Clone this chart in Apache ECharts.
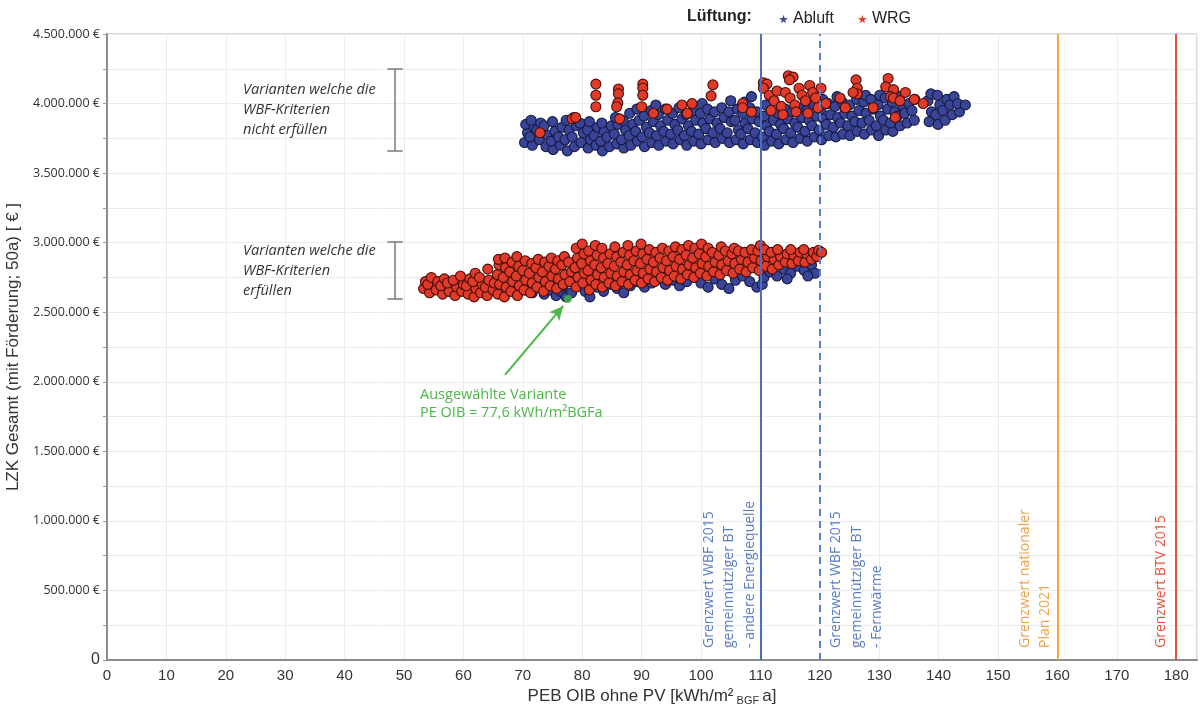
<!DOCTYPE html>
<html><head><meta charset="utf-8">
<script src="https://cdn.jsdelivr.net/npm/echarts@6/dist/echarts.min.js"></script>
<style>html,body{margin:0;padding:0;background:#fff}#c{width:1200px;height:705px}</style>
</head><body><div id="c"></div><script>
// ---- data (x: PEB OIB kWh/m²a, y: LZK in thousand €) ----
const xTicks = [0,10,20,30,40,50,60,70,80,90,100,110,120,130,140,150,160,170,180];
const yTickStep = 250; // thousand €
const abluftUpper = [
[70.3,3720],[70.8,3790],[70.5,3850],[71.6,3700],[71.2,3760],[71.9,3830],[71.4,3880],
[72.8,3740],[72.4,3810],[73.0,3860],[73.9,3690],[74.2,3770],[73.6,3840],
[75.1,3670],[74.8,3730],[75.4,3800],[75.0,3870],[76.3,3700],[76.0,3760],[76.6,3830],
[77.5,3660],[77.1,3740],[77.8,3810],[77.3,3880],[78.7,3690],[78.3,3760],[79.0,3840],[78.6,3900],
[79.8,3720],[80.2,3790],[79.6,3860],[81.0,3680],[81.4,3740],[80.9,3810],[81.2,3870],
[82.3,3700],[82.0,3770],[82.6,3830],[83.4,3660],[83.1,3730],[83.7,3800],[83.3,3860],
[84.6,3690],[84.2,3760],[84.9,3840],[85.8,3710],[85.4,3780],[86.0,3850],[85.6,3900],
[87.0,3680],[86.6,3740],[87.3,3810],[86.9,3880],[88.2,3700],[87.9,3770],[88.5,3850],[88.0,3930],
[89.3,3730],[89.0,3800],[89.6,3880],[89.2,3960],[90.5,3690],[90.1,3760],[90.8,3830],[90.4,3910],
[91.7,3720],[91.3,3790],[92.0,3870],[91.6,3950],[92.9,3700],[92.5,3770],[93.2,3840],[92.8,3920],[92.4,3990],
[94.1,3730],[93.7,3800],[94.4,3880],[94.0,3960],[95.3,3710],[94.9,3780],[95.6,3850],[95.2,3930],
[96.5,3740],[96.1,3810],[96.8,3890],[96.3,3970],[97.6,3700],[97.2,3770],[97.9,3840],[97.5,3920],
[98.8,3730],[98.4,3800],[99.1,3880],[98.7,3950],[100.0,3710],[99.6,3780],[100.3,3860],[99.9,3930],[100.2,4000],
[101.2,3740],[100.8,3820],[101.5,3890],[101.1,3960],[102.4,3720],[102.0,3790],[102.7,3860],[102.3,3940],
[103.6,3750],[103.2,3820],[103.9,3900],[103.5,3970],[104.8,3720],[104.4,3790],[105.1,3870],[104.7,3940],[105.0,4020],
[105.9,3740],[106.3,3810],[105.7,3880],[106.1,3960],[107.1,3710],[106.7,3780],[107.4,3860],[107.0,3930],[107.3,4010],
[108.3,3740],[107.9,3820],[108.6,3890],[108.2,3970],[108.5,4050],[109.5,3720],[109.1,3790],[109.8,3870],[109.4,3940],
[110.7,3700],[110.3,3760],[111.0,3840],[110.6,3910],[110.9,3990],[111.9,3730],[111.5,3800],[112.2,3880],[111.8,3950],
[113.1,3710],[112.7,3780],[113.4,3850],[113.0,3930],[114.3,3740],[113.9,3820],[114.6,3890],[114.2,3960],
[115.5,3720],[115.1,3790],[115.8,3860],[115.4,3940],[116.7,3750],[116.3,3830],[117.0,3900],[116.6,3970],
[117.9,3730],[117.5,3800],[118.2,3880],[117.8,3950],[119.1,3760],[118.7,3840],[119.4,3910],[119.0,3990],
[120.3,3740],[119.9,3810],[120.6,3890],[120.2,3960],[120.5,4030],[121.5,3770],[121.1,3850],[121.8,3920],[121.4,4000],
[122.7,3760],[122.3,3830],[123.0,3900],[122.6,3980],[122.9,4050],[123.9,3780],[123.5,3860],[124.2,3930],[123.8,4010],
[125.1,3770],[124.7,3840],[125.4,3910],[125.0,3990],[126.3,3800],[125.9,3870],[126.6,3950],[126.2,4030],
[127.5,3780],[127.1,3860],[127.8,3930],[127.4,4010],[127.7,4060],[128.7,3810],[128.3,3880],[129.0,3960],[128.6,4030],
[129.9,3770],[129.5,3840],[130.2,3910],[129.8,3990],[130.1,4060],[131.1,3810],[130.7,3880],[131.4,3960],[131.0,4040],
[132.3,3800],[131.9,3860],[132.6,3940],[132.2,4010],[132.5,4080],[133.5,3840],[133.1,3910],[133.8,3990],[133.4,4050],
[134.7,3860],[134.3,3930],[135.0,4000],[135.9,3880],[135.5,3950],[136.0,4030],
[138.4,3870],[138.8,3940],[138.2,4020],[138.7,4070],[139.9,3850],[139.5,3920],[140.2,3990],[139.8,4060],
[141.1,3880],[140.7,3950],[141.4,4030],[142.3,3920],[141.9,3990],[142.6,4050],[143.5,3940],[143.2,4000],[144.5,3990]
];
const abluftLower = [
[70.5,2660],[71.6,2640],[72.8,2680],[73.6,2630],[74.5,2660],[75.6,2620],[76.4,2650],[77.3,2610],[78.2,2640],
[76.8,2690],[74.0,2700],[79.5,2700],[80.5,2650],[81.3,2610],[82.5,2680],[83.6,2650],[84.8,2700],[85.9,2670],
[87.0,2640],[88.1,2690],[89.3,2720],[90.5,2680],[91.7,2710],[92.9,2740],[94.0,2700],[95.2,2730],[96.4,2690],
[97.6,2720],[98.8,2750],[100.0,2710],[101.2,2680],[102.3,2740],[103.5,2700],[104.7,2670],[105.8,2730],
[107.0,2760],[108.2,2720],[109.4,2680],[110.3,2700],[110.6,2750],[111.6,2790],[112.8,2760],[113.9,2810],
[115.1,2780],[116.3,2830],[117.4,2800],[118.6,2840],[119.2,2780],[118.0,2760],[114.5,2740]
];
const wrgUpper = [
[72.9,3790],[78.3,3890],[78.9,3900],[82.3,4140],[82.3,4060],[82.3,3977],[86.1,4105],[86.1,4070],[86.0,4005],
[85.8,3977],[86.3,3890],[90.2,4140],[90.2,4110],[90.2,4060],[90.0,3977],[92.0,3930],[94.3,3960],[96.8,3990],
[97.7,3930],[98.5,4000],[102.0,4134],[101.7,4055],[107.0,4000],[107.0,3970],[108.5,3940],
[110.5,4150],[111.1,4140],[110.5,4110],[111.5,4060],[112.3,4020],[112.8,4090],[113.5,3980],[114.7,4200],
[115.5,4190],[114.9,4170],[114.2,4080],[115.0,4040],[115.8,3990],[116.5,4110],[117.0,4060],[117.6,4020],
[118.3,4130],[118.8,4080],[119.3,4040],[119.7,3970],[111.8,3950],[113.8,3920],[116.0,3940],[118.0,3930],
[120.2,4110],[121.0,4000],[123.4,4040],[124.3,3970],[126.1,4170],[126.3,4110],[126.3,4070],[125.6,4080],
[129.0,3970],[131.5,4180],[131.1,4120],[132.4,4100],[131.9,4050],[132.4,4040],[132.7,3900],[133.5,4020],
[134.4,4080],[135.9,4030],[137.4,4000]
];
const wrgLower = [
[53.3,2670],[53.6,2720],[54.3,2640],[54.0,2700],[54.6,2750],[55.4,2660],[55.7,2720],[56.5,2630],[56.2,2690],[56.8,2740],
[57.6,2650],[57.3,2710],[58.6,2620],[58.9,2680],[58.3,2730],[59.7,2650],[60.0,2700],[59.5,2760],[60.8,2630],[60.5,2690],[61.1,2740],
[61.8,2610],[62.1,2670],[61.6,2720],[62.0,2780],[62.9,2640],[63.2,2700],[62.7,2750],[64.0,2620],[63.7,2680],[64.3,2730],[64.1,2810],
[65.0,2660],[65.2,2710],[65.8,2630],[66.1,2700],[65.7,2770],[66.0,2840],[65.9,2880],[66.9,2610],[67.2,2680],[66.7,2750],[67.1,2820],[67.0,2890],
[68.0,2650],[68.3,2720],[67.8,2790],[68.2,2860],[69.1,2620],[69.4,2690],[68.9,2760],[69.3,2830],[69.0,2900],
[70.2,2660],[70.5,2730],[70.0,2800],[70.4,2870],[71.3,2640],[71.6,2710],[71.1,2780],[71.5,2850],
[72.4,2680],[72.7,2750],[72.2,2820],[72.6,2880],[73.5,2650],[73.8,2720],[73.3,2790],[73.7,2860],
[74.6,2690],[74.9,2760],[74.4,2830],[74.8,2890],[75.7,2670],[76.0,2740],[75.5,2810],[75.9,2870],
[76.8,2700],[77.1,2770],[76.6,2840],[77.0,2900],[77.9,2720],[78.2,2790],[77.7,2860],
[79.0,2680],[79.3,2750],[78.8,2820],[79.2,2890],[79.0,2960],[80.1,2710],[80.4,2780],[79.9,2850],[80.3,2920],[80.0,2990],
[81.2,2660],[81.5,2730],[81.0,2800],[81.4,2870],[81.1,2940],[82.3,2700],[82.6,2770],[82.1,2840],[82.5,2910],[82.2,2980],
[83.4,2680],[83.7,2750],[83.2,2820],[83.6,2890],[83.3,2960],[84.5,2710],[84.8,2780],[84.3,2850],[84.7,2920],
[85.6,2690],[85.9,2760],[85.4,2830],[85.8,2900],[85.5,2970],[86.7,2720],[87.0,2790],[86.5,2860],[86.9,2930],
[87.8,2700],[88.1,2770],[87.6,2840],[88.0,2910],[87.7,2980],[88.9,2730],[89.2,2800],[88.7,2870],[89.1,2940],
[90.0,2710],[90.3,2780],[89.8,2850],[90.2,2920],[89.9,2990],[91.1,2740],[91.4,2810],[90.9,2880],[91.3,2950],
[92.2,2720],[92.5,2790],[92.0,2860],[92.4,2930],[93.3,2750],[93.6,2820],[93.1,2890],[93.5,2960],
[94.4,2730],[94.7,2800],[94.2,2870],[94.6,2940],[95.5,2760],[95.8,2830],[95.3,2900],[95.7,2970],
[96.6,2740],[96.9,2810],[96.4,2880],[96.8,2950],[97.7,2770],[98.0,2840],[97.5,2910],[97.9,2980],
[98.8,2750],[99.1,2820],[98.6,2890],[99.0,2960],[99.9,2780],[100.2,2850],[99.7,2920],[100.1,2990],
[101.0,2760],[101.3,2830],[100.8,2900],[101.2,2960],[102.1,2790],[102.4,2860],[101.9,2930],
[103.2,2770],[103.5,2840],[103.0,2910],[103.4,2970],[104.3,2800],[104.6,2870],[104.1,2940],
[105.4,2780],[105.7,2850],[105.2,2920],[105.6,2960],[106.5,2810],[106.8,2880],[106.3,2940],
[107.6,2790],[107.9,2860],[107.4,2930],[108.7,2820],[109.0,2890],[108.5,2950],
[109.8,2800],[110.1,2870],[109.6,2940],[110.0,2980],[110.9,2830],[111.2,2900],[110.7,2950],
[112.0,2810],[112.3,2880],[111.8,2930],[113.1,2840],[113.4,2900],[112.9,2950],[114.2,2860],[114.5,2920],
[115.3,2850],[115.6,2910],[115.1,2950],[116.4,2870],[116.7,2930],[117.5,2860],[117.8,2920],[117.3,2950],
[118.6,2880],[118.9,2930],[119.5,2900],[119.8,2945],[120.3,2930]
];
const selected = [[77.6, 2595]];
const limitLines = [110, 120, 160, 180];
const limitTexts = [
  ['Grenzwert WBF 2015','gemeinnütziger BT','- andere Energiequelle'],
  ['Grenzwert WBF 2015','gemeinnütziger BT','- Fernwärme'],
  ['Grenzwert nationaler','Plan 2021'],
  ['Grenzwert BTV 2015']
];
const seriesNames = ['Abluft','WRG'];
const groupTexts = [
  ['Varianten welche die','WBF-Kriterien','nicht erfüllen'],
  ['Varianten welche die','WBF-Kriterien','erfüllen']
];
const groupTextPos = [[22.9, 4170],[22.9, 3010]];
const brackets = [[48.5, 4248, 3659],[48.5, 3005, 2595]];
const bracketCap = [47.2, 49.8];
const arrowFrom = [67.0, 2049], arrowTo = [76.8, 2545];
const selTextPos = [52.7, 1969];
const selTexts = ['Ausgewählte Variante','PE OIB = 77,6 kWh/m²BGFa'];

// ---- styles ----
const BLUE = '#3a4597', BLUE_B = '#141a45';
const RED = '#df3a2a', RED_B = '#4a0e08';
const GREEN = '#4cb848';
const lineStyles = [
  {color:'#4a6fc0', width:2, type:'solid'},
  {color:'#5b80c8', width:2, type:[7,5]},
  {color:'#f7a445', width:2, type:'solid'},
  {color:'#e8503a', width:2, type:'solid'}
];
const textColors = ['#5a7cc4','#5a7cc4','#f0a048','#e8523c'];
const textOffsets = [-62, 6, -43, -25];

const fmt = n => String(n).replace(/\B(?=(\d{3})+(?!\d))/g, '.');
const chart = echarts.init(document.getElementById('c'), null, {renderer:'canvas'});
const starPath = 'path://M50,0 L61,35 L98,35 L68,57 L79,91 L50,70 L21,91 L32,57 L2,35 L39,35 Z';

const bracketData = [];
brackets.forEach(b => {
  bracketData.push([{coord:[b[0], b[1]]},{coord:[b[0], b[2]]}]);
  bracketData.push([{coord:[bracketCap[0], b[1]]},{coord:[bracketCap[1], b[1]]}]);
  bracketData.push([{coord:[bracketCap[0], b[2]]},{coord:[bracketCap[1], b[2]]}]);
});

chart.setOption({
  animation: false,
  backgroundColor: '#ffffff',
  grid: {left:107, right:3, top:34, bottom:45, show:true, borderColor:'#b5b5b5', borderWidth:1,
    containLabel:false, outerBoundsMode:'none'},
  legend: {
    data: seriesNames, left: 774, top: 6, icon: starPath, itemWidth: 9, itemHeight: 9, itemGap: 24,
    itemStyle: {borderWidth: 0},
    textStyle: {fontFamily:'Liberation Sans, Arial', fontSize:16, color:'#222', padding:[2,0,0,0]}
  },
  xAxis: {
    type:'value', min:0, max:183.5, interval:10,
    name:'{a|PEB OIB ohne PV [kWh/m²}{s| BGF }{a|a]}', nameLocation:'middle', nameGap:22,
    nameTextStyle:{rich:{
      a:{fontFamily:'Liberation Sans, Arial', fontSize:17, color:'#333', lineHeight:20, verticalAlign:'bottom'},
      s:{fontFamily:'Liberation Sans, Arial', fontSize:11, color:'#333', lineHeight:20, verticalAlign:'bottom', padding:[0,0,-2,0]}
    }},
    axisLine:{show:true, lineStyle:{color:'#8c8c8c', width:2}},
    axisTick:{show:false},
    axisLabel:{showMaxLabel:false, margin:8, fontFamily:'Liberation Sans, Arial', fontSize:15, color:'#333',
      formatter: v => xTicks.includes(v) ? String(v) : ''},
    splitLine:{show:true, lineStyle:{color:'#ececec', width:1}}
  },
  yAxis: {
    type:'value', min:0, max:4500, interval:yTickStep,
    name:'LZK Gesamt (mit Förderung; 50a) [ € ]', nameLocation:'middle', nameGap:80,
    nameTextStyle:{fontFamily:'Liberation Sans, Arial', fontSize:17, color:'#333'},
    axisLine:{show:true, lineStyle:{color:'#8c8c8c', width:2}},
    axisTick:{show:true, length:4, lineStyle:{color:'#9a9a9a'}},
    axisLabel:{margin:7, fontFamily:'Open Sans', fontSize:12.5, color:'#333',
      formatter: v => v === 0 ? '{z|0}' : (v % 500 === 0 ? fmt(v*1000) + ' €' : ''),
      rich:{z:{fontFamily:'Liberation Sans, Arial', fontSize:16, color:'#333'}}},
    splitLine:{show:true, lineStyle:{color:'#ececec', width:1}}
  },
  series: [
    {name:'Abluft', type:'scatter', data: abluftUpper.concat(abluftLower), symbolSize:10,
      itemStyle:{color:BLUE, borderColor:BLUE_B, borderWidth:1.1, opacity:1}, z:2},
    {name:'WRG', type:'scatter', data: wrgUpper.concat(wrgLower), symbolSize:10,
      itemStyle:{color:RED, borderColor:RED_B, borderWidth:1.1, opacity:1}, z:3},
    {name:'Ausgewählte Variante', type:'scatter', data: selected, symbolSize:8,
      itemStyle:{color:GREEN}, z:5,
      markLine:{silent:true, animation:false, symbol:['none','none'], label:{show:false},
        data: limitLines.map((x,i) => ({xAxis:x, lineStyle:lineStyles[i]})), z:6}
    },
    {name:'anno', type:'scatter', data:[[arrowFrom[0], arrowFrom[1]]], symbolSize:0, z:6,
      markLine:{silent:true, animation:false, symbol:['none','none'], label:{show:false},
        lineStyle:{color:'#7a7a7a', width:1.5, type:'solid'}, data: bracketData}
    },
    {name:'arrow', type:'scatter', data:[[arrowTo[0], arrowTo[1]]], symbolSize:0, z:6,
      markLine:{silent:true, animation:false, symbol:['none','arrow'], symbolSize:[10,14], label:{show:false},
        lineStyle:{color:GREEN, width:2, type:'solid'},
        data:[[{coord:arrowFrom},{coord:arrowTo}]]}
    }
  ]
});

const px = p => chart.convertToPixel({gridIndex:0}, p);
const graphics = [];
graphics.push({type:'text', left:687, top:9, style:{text:'Lüftung:', fill:'#222',
  font:'bold 16px "Liberation Sans", Arial'}});
limitLines.forEach((x, i) => {
  const p = px([x, 0]);
  graphics.push({type:'text', x: p[0] + textOffsets[i], y: p[1] - 12, rotation: Math.PI/2, z:10,
    style:{text: limitTexts[i].join('\n'), fill: textColors[i], font:'14px "Open Sans"',
      textAlign:'left', textVerticalAlign:'top', align:'left', verticalAlign:'top', lineHeight:20.5}});
});
groupTexts.forEach((t, i) => {
  const p = px(groupTextPos[i]);
  graphics.push({type:'text', x:p[0], y:p[1], z:10,
    style:{text:t.join('\n'), fill:'#333', font:'italic 14.5px "Open Sans"', lineHeight:20,
      textAlign:'left', textVerticalAlign:'top', align:'left', verticalAlign:'top'}});
});
{
  const p = px(selTextPos);
  graphics.push({type:'text', x:p[0], y:p[1], z:10,
    style:{text:selTexts.join('\n'), fill:GREEN, font:'14.5px "Open Sans"', lineHeight:18,
      textAlign:'left', textVerticalAlign:'top', align:'left', verticalAlign:'top'}});
}
chart.setOption({graphic: graphics});
</script></body></html>
